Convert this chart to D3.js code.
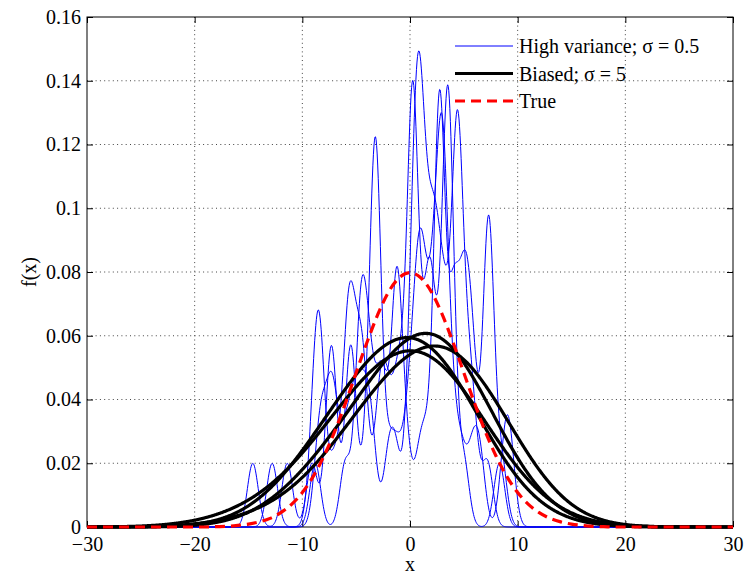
<!DOCTYPE html>
<html>
<head>
<meta charset="utf-8">
<script src="https://cdn.jsdelivr.net/npm/d3@7"></script>
<style>
  body { margin: 0; background: #fff; }
  svg text { font-family: "Liberation Serif", Tinos, "Nimbus Roman", FreeSerif, "Times New Roman", "DejaVu Serif", serif !important; }
</style>
</head>
<body>
<div id="chart"></div>
<script>
// samples behind each estimate (read off the bump positions in the picture)
let setA = [0.5, 0.6, 0.7, 0.8, 0.9, 4.2, 4.3, 4.4, 4.45, 4.5, 4.6,
  1.5, 2.0, 2.4, 3.3, 1.0, -8.5, -7.3, -7.1, -4.5, -4.0, -3.5, 0.0, -1.3, 0.1,
  1.8, 2.3, 3.0, 5.5, 6.0, 7.2, -8.0, -6.2, -2.0, 1.3, 2.7, 3.6, 5.2, -5.0, -5.5]
let setB = [0.0, 0.1, 0.2, 0.25, 0.3, 0.4, 0.5, 3.3, 3.4, 3.5, 3.55, 3.6, 3.7,
  -5.5, -2.6, 1.6, -8.6, -8.4, -8.2, 2.2, 5.0, -6.0, -4.8, -4.4, -3.0, -2.2,
  -1.6, -0.8, 1.2, 1.8, 2.9, -1.0, -5.3, -4.2, 8.3, -9.0, 2.0, 4.0, -5.8, -7.0]
let setC = [-3.4, -3.3, -3.2, -3.15, -3.1, -3.0, 2.85, 2.95, 3.0, 3.05, 3.1,
  -5.7, -5.5, -5.3, -7.5, -7.3, -7.1, -14.6, -11.4, -9.1, 8.8, 9.3,
  0.2, 0.6, 1.0, 1.5, 2.2, 2.4, 4.0, 4.8, 5.8, 6.5, 1.2, 2.0, 0.8, 3.6, -0.3, -1.2, -4.0, -2.0]
let setD = [2.5, 2.6, 2.7, 2.75, 2.8, 2.9, 3.9, 4.0, 4.1, -4.75, -1.4, -1.3, -1.2, -1.0,
  5.0, 5.15, 5.3, -2.4, 7.1, 7.2, 7.3, 7.4, 7.5, -12.8, -8.8, -6.0, 8.5,
  6.0, -4.6, 5.8, -4.5, -3.8, -2.6, -0.3, 0.9, 1.6, 4.6, -4.0, -3.2, 3.0]
let sampleSets = [setA, setB, setC, setD]

let narrowWidth = 0.5
let wideWidth = 5

// true density, read at whole numbers
let trueX = d3.range(-30, 31)
let trueHalf = [0.0798, 0.0782, 0.0737, 0.0666, 0.0579, 0.0484, 0.0388, 0.0299,
  0.0222, 0.0158, 0.0108, 0.0071, 0.0045, 0.0027, 0.0016, 0.0009, 0.0005, 0.0002,
  0.0001, 0, 0, 0, 0, 0, 0, 0, 0, 0, 0, 0, 0]
let trueY = trueX.map(x => trueHalf[Math.abs(x)])

let xTicks = [-30, -20, -10, 0, 10, 20, 30]
let yTicks = [0, 0.02, 0.04, 0.06, 0.08, 0.1, 0.12, 0.14, 0.16]
let legendLabels = ['High variance; \u03c3 = 0.5', 'Biased; \u03c3 = 5', 'True']

let margin = { top: 17, right: 12, bottom: 50, left: 87 }
let width = 745 - margin.left - margin.right
let height = 577 - margin.top - margin.bottom
let fontSize = 20

let svg = d3.select('#chart')
  .append('svg')
  .attr('width', 745)
  .attr('height', 577)
  .append('g')
  .attr('transform', 'translate(' + margin.left + ',' + margin.top + ')')

let xPositionScale = d3.scaleLinear().domain([-30, 30]).range([0, width])
let yPositionScale = d3.scaleLinear().domain([0, 0.16]).range([height, 0])

// grid
svg.selectAll('.xgrid')
  .data(xTicks.slice(1, -1))
  .enter().append('line')
  .attr('x1', d => xPositionScale(d)).attr('x2', d => xPositionScale(d))
  .attr('y1', 0).attr('y2', height)
  .attr('stroke', '#444').attr('stroke-dasharray', '1,3.3')
svg.selectAll('.ygrid')
  .data(yTicks.slice(1, -1))
  .enter().append('line')
  .attr('y1', d => yPositionScale(d)).attr('y2', d => yPositionScale(d))
  .attr('x1', 0).attr('x2', width)
  .attr('stroke', '#444').attr('stroke-dasharray', '1,3.3')

let fmtX = d => (d < 0 ? '\u2212' + Math.abs(d) : String(d))
let fmtY = d => String(+d.toFixed(2))

let xAxis = d3.axisBottom(xPositionScale).tickValues(xTicks).tickFormat(fmtX)
  .tickSizeInner(-6).tickSizeOuter(0).tickPadding(10)
let xAxisTop = d3.axisTop(xPositionScale).tickValues(xTicks).tickFormat('')
  .tickSizeInner(-6).tickSizeOuter(0)
let yAxis = d3.axisLeft(yPositionScale).tickValues(yTicks).tickFormat(fmtY)
  .tickSizeInner(-6).tickSizeOuter(0).tickPadding(6)
let yAxisRight = d3.axisRight(yPositionScale).tickValues(yTicks).tickFormat('')
  .tickSizeInner(-6).tickSizeOuter(0)

function styleAxis(g) {
  g.attr('font-family', null)
  g.select('.domain').remove()
  g.selectAll('line').attr('stroke', '#000')
  g.selectAll('text').attr('font-size', fontSize).attr('fill', '#000')
}

svg.append('g').attr('transform', 'translate(0,' + height + ')').call(xAxis).call(styleAxis)
svg.append('g').call(xAxisTop).call(styleAxis)
svg.append('g').call(yAxis).call(styleAxis)
svg.append('g').attr('transform', 'translate(' + width + ',0)').call(yAxisRight).call(styleAxis)

svg.append('rect')
  .attr('width', width).attr('height', height)
  .attr('fill', 'none').attr('stroke', '#000').attr('stroke-width', 1)

// kernel density estimate
function kde(samples, h) {
  let c = 1 / (samples.length * h * Math.sqrt(2 * Math.PI))
  return x => c * d3.sum(samples, s => Math.exp(-0.5 * ((x - s) / h) * ((x - s) / h)))
}

let grid = d3.range(-30, 30.0001, 0.05)

let line = d3.line()
  .x(d => xPositionScale(d[0]))
  .y(d => yPositionScale(d[1]))

sampleSets.forEach(samples => {
  let f = kde(samples, narrowWidth)
  svg.append('path')
    .datum(grid.map(x => [x, f(x)]))
    .attr('d', line)
    .attr('fill', 'none')
    .attr('stroke', '#0000ff')
    .attr('stroke-width', 1)
})

sampleSets.forEach(samples => {
  let f = kde(samples, wideWidth)
  svg.append('path')
    .datum(grid.map(x => [x, f(x)]))
    .attr('d', line)
    .attr('fill', 'none')
    .attr('stroke', '#000')
    .attr('stroke-width', 3.2)
})

svg.append('path')
  .datum(trueX.map((x, i) => [x, trueY[i]]))
  .attr('d', line.curve(d3.curveMonotoneX))
  .attr('fill', 'none')
  .attr('stroke', '#ff0000')
  .attr('stroke-width', 3.2)
  .attr('stroke-dasharray', '10,6')

// legend
let legendStyles = [
  { color: '#0000ff', w: 1, dash: null },
  { color: '#000', w: 3.2, dash: null },
  { color: '#ff0000', w: 3.2, dash: '10,6' }
]
let legend = svg.append('g').attr('transform', 'translate(' + (455 - margin.left) + ',' + (46 - margin.top) + ')')
legendLabels.forEach((label, i) => {
  let g = legend.append('g').attr('transform', 'translate(0,' + i * 27.5 + ')')
  g.append('line')
    .attr('x1', 0).attr('x2', 58)
    .attr('stroke', legendStyles[i].color)
    .attr('stroke-width', legendStyles[i].w)
    .attr('stroke-dasharray', legendStyles[i].dash)
  g.append('text')
    .attr('x', 64).attr('y', 7)
    .attr('font-size', fontSize)
    .text(label)
})

svg.append('text')
  .attr('x', width / 2).attr('y', height + 44)
  .attr('text-anchor', 'middle')
  .attr('font-size', fontSize)
  .text('x')

svg.append('text')
  .attr('transform', 'translate(' + (36 - margin.left) + ',' + (height / 2) + ') rotate(-90)')
  .attr('text-anchor', 'middle')
  .attr('font-size', fontSize)
  .text('f(x)')
</script>
</body>
</html>
